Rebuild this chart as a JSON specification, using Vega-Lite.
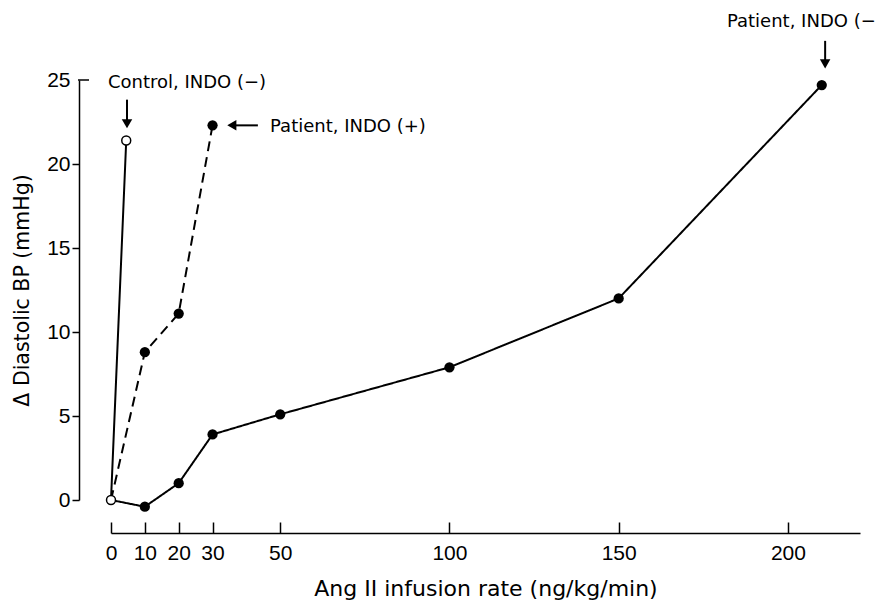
{
  "$schema": "https://vega.github.io/schema/vega-lite/v6.json",
  "width": 749,
  "height": 420,
  "autosize": {"type": "none"},
  "padding": {"left": 111, "top": 80, "right": 16, "bottom": 105},
  "background": "white",
  "config": {
    "view": {"stroke": null},
    "font": "DejaVu Sans",
    "axis": {"grid": false, "labelColor": "black", "titleColor": "black", "domainColor": "black", "tickColor": "black", "labelFont": "Liberation Sans", "titleFont": "DejaVu Sans", "titleFontWeight": "normal"}
  },
  "datasets": {
    "series": [
      {"series": "Control, INDO (-)", "x": 0, "y": 0, "marker": "open"},
      {"series": "Control, INDO (-)", "x": 4.5, "y": 21.4, "marker": "open"},
      {"series": "Patient, INDO (+)", "x": 0, "y": 0, "marker": "none"},
      {"series": "Patient, INDO (+)", "x": 10, "y": 8.8, "marker": "filled"},
      {"series": "Patient, INDO (+)", "x": 20, "y": 11.1, "marker": "filled"},
      {"series": "Patient, INDO (+)", "x": 30, "y": 22.3, "marker": "filled"},
      {"series": "Patient, INDO (-)", "x": 0, "y": 0, "marker": "none"},
      {"series": "Patient, INDO (-)", "x": 10, "y": -0.4, "marker": "filled"},
      {"series": "Patient, INDO (-)", "x": 20, "y": 1.0, "marker": "filled"},
      {"series": "Patient, INDO (-)", "x": 30, "y": 3.9, "marker": "filled"},
      {"series": "Patient, INDO (-)", "x": 50, "y": 5.1, "marker": "filled"},
      {"series": "Patient, INDO (-)", "x": 100, "y": 7.9, "marker": "filled"},
      {"series": "Patient, INDO (-)", "x": 150, "y": 12.0, "marker": "filled"},
      {"series": "Patient, INDO (-)", "x": 210, "y": 24.7, "marker": "filled"}
    ],
    "labels": [
      {"label": "Control, INDO (−)", "x": -0.9, "y": 24.8},
      {"label": "Patient, INDO (+)", "x": 47, "y": 22.2},
      {"label": "Patient, INDO (−)", "x": 182, "y": 28.45}
    ],
    "arrows": [
      {"x": 4.73, "y": 23.83, "x2": 4.73, "y2": 22.5},
      {"x": 211, "y": 27.33, "x2": 211, "y2": 26.0},
      {"x": 43.4, "y": 22.3, "x2": 36.2, "y2": 22.3}
    ],
    "heads": [
      {"x": 4.73, "y": 22.4, "shape": "triangle-down"},
      {"x": 211, "y": 25.96, "shape": "triangle-down"},
      {"x": 35.7, "y": 22.3, "shape": "triangle-left"}
    ],
    "cornertick": [
      {"x": -9.75, "y": 25, "x2": -6.5}
    ]
  },
  "encoding": {
    "x": {
      "field": "x", "type": "quantitative",
      "scale": {"domain": [0, 221.3], "nice": false, "zero": false},
      "axis": {
        "title": "Ang II infusion rate (ng/kg/min)",
        "values": [0, 10, 20, 30, 50, 100, 150, 200],
        "offset": 33, "tickSize": -11, "tickWidth": 1.5, "domainWidth": 1.5,
        "labelFontSize": 21, "labelPadding": 20, "labelFlush": false,
        "titleFontSize": 22, "titlePadding": 15
      }
    },
    "y": {
      "field": "y", "type": "quantitative",
      "scale": {"domain": [0, 25], "nice": false, "zero": false},
      "axis": {
        "title": "Δ Diastolic BP (mmHg)",
        "values": [0, 5, 10, 15, 20, 25],
        "offset": 32, "tickSize": 7, "tickWidth": 1.5, "domainWidth": 1.5,
        "tickColor": {"condition": {"test": "datum.value === 25", "value": "transparent"}, "value": "black"},
        "labelFontSize": 21, "labelPadding": 2,
        "titleFontSize": 20.5, "titlePadding": 14
      }
    }
  },
  "layer": [
    {
      "data": {"name": "series"},
      "mark": {"type": "line", "color": "black", "strokeWidth": 2},
      "encoding": {
        "detail": {"field": "series"},
        "strokeDash": {
          "field": "series", "type": "nominal", "legend": null,
          "scale": {"domain": ["Control, INDO (-)", "Patient, INDO (+)", "Patient, INDO (-)"], "range": [[1, 0], [10, 6], [1, 0]]}
        }
      }
    },
    {
      "data": {"name": "series"},
      "transform": [{"filter": "datum.marker === 'filled'"}],
      "mark": {"type": "point", "shape": "circle", "filled": true, "color": "black", "opacity": 1, "size": 105},
      "encoding": {}
    },
    {
      "data": {"name": "series"},
      "transform": [{"filter": "datum.marker === 'open'"}],
      "mark": {"type": "point", "shape": "circle", "filled": true, "fill": "white", "stroke": "black", "strokeWidth": 1.5, "opacity": 1, "size": 80},
      "encoding": {}
    },
    {
      "data": {"name": "arrows"},
      "mark": {"type": "rule", "color": "black", "strokeWidth": 2},
      "encoding": {"x2": {"field": "x2"}, "y2": {"field": "y2"}}
    },
    {
      "data": {"name": "cornertick"},
      "mark": {"type": "rule", "color": "black", "strokeWidth": 1.5},
      "encoding": {"x2": {"field": "x2"}}
    },
    {
      "data": {"name": "heads"},
      "mark": {"type": "point", "filled": true, "color": "black", "opacity": 1, "size": 110},
      "encoding": {"shape": {"field": "shape", "type": "nominal", "scale": null}}
    },
    {
      "data": {"name": "labels"},
      "mark": {"type": "text", "align": "left", "baseline": "middle", "fontSize": 18, "color": "black", "font": "DejaVu Sans"},
      "encoding": {"text": {"field": "label"}}
    }
  ]
}
